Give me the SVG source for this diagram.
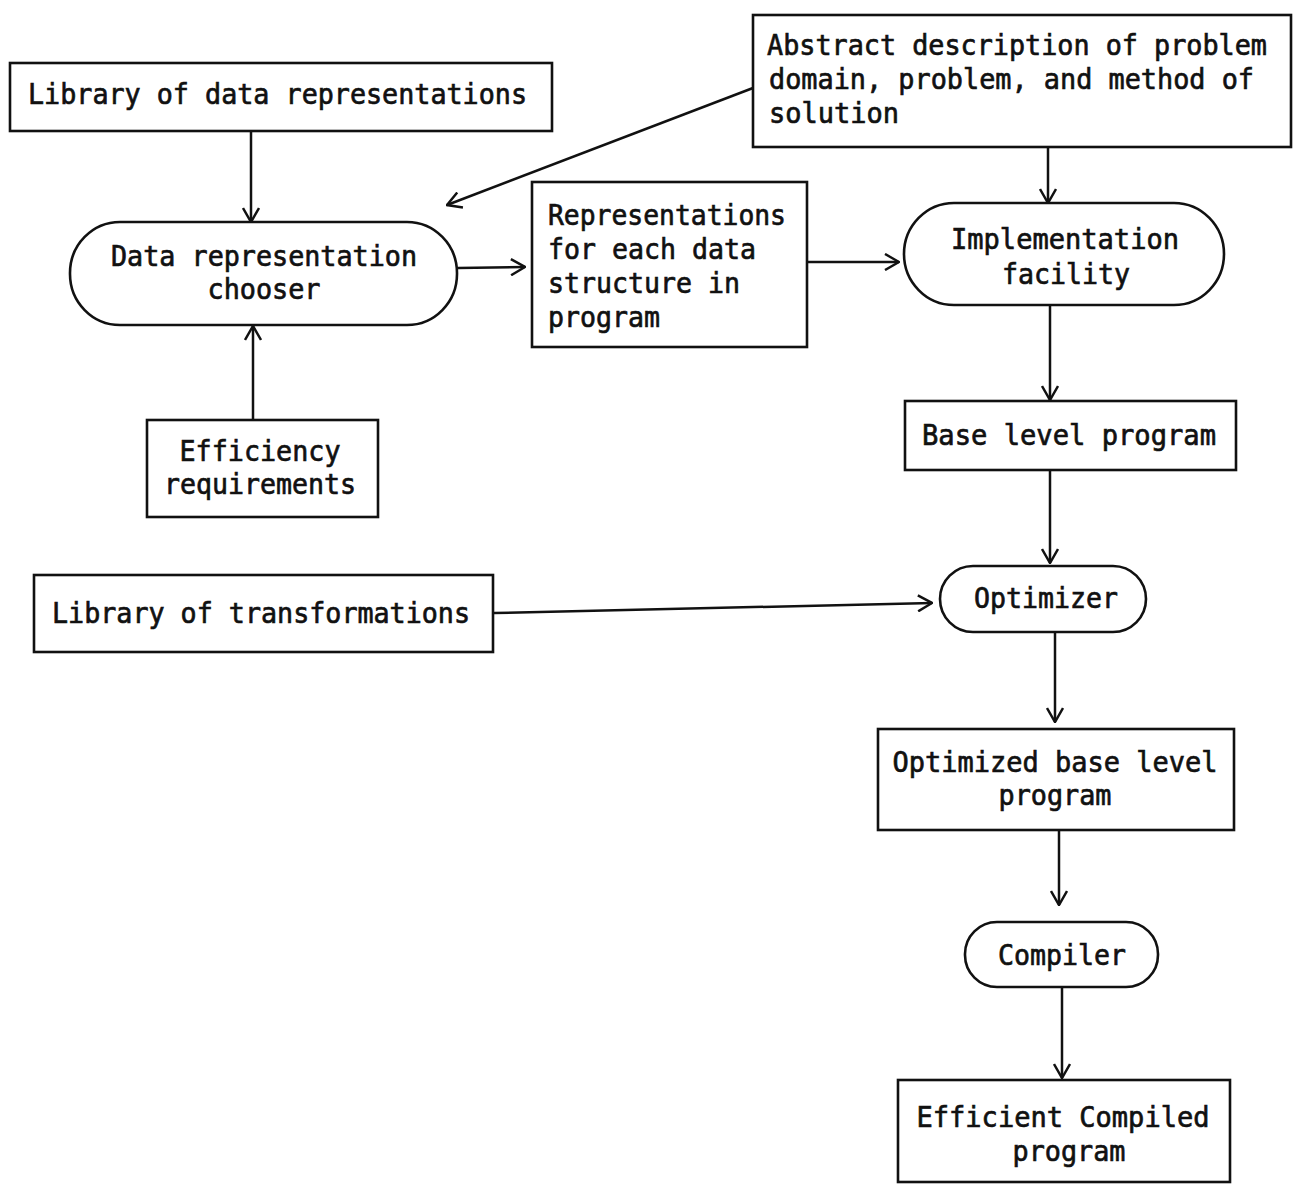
<svg xmlns="http://www.w3.org/2000/svg" width="1296" height="1186" viewBox="0 0 1296 1186">
<style>
.b{fill:#fff;stroke:#111;stroke-width:2.6}
.t{font-family:"DejaVu Sans Mono","Liberation Mono",monospace;font-size:29px;fill:#111;stroke:#111;stroke-width:0.7}
.m{text-anchor:middle}
.c{stroke:#111;stroke-width:2.5;fill:none;marker-end:url(#ah)}
</style>
<defs>
<marker id="ah" markerUnits="userSpaceOnUse" viewBox="0 0 16 18" markerWidth="16" markerHeight="18" refX="15" refY="9" orient="auto">
<path d="M1,1 L15,9 L1,17" fill="none" stroke="#111" stroke-width="2.5"/>
</marker>
</defs>
<rect width="1296" height="1186" fill="#fff"/>
<g id="connectors">
<line class="c" x1="251" y1="131" x2="251" y2="222"/>
<line class="c" x1="753" y1="88" x2="447" y2="205"/>
<line class="c" x1="253" y1="420" x2="253" y2="326"/>
<line class="c" x1="458" y1="268" x2="525" y2="267"/>
<line class="c" x1="808" y1="262" x2="899" y2="262"/>
<line class="c" x1="1048" y1="148" x2="1048" y2="203"/>
<line class="c" x1="1050" y1="306" x2="1050" y2="400"/>
<line class="c" x1="1050" y1="471" x2="1050" y2="563"/>
<line class="c" x1="494" y1="613" x2="932" y2="603"/>
<line class="c" x1="1055" y1="633" x2="1055" y2="722"/>
<line class="c" x1="1059" y1="830" x2="1059" y2="905"/>
<line class="c" x1="1062" y1="988" x2="1062" y2="1078"/>
</g>
<g id="lib-data">
<rect class="b" x="10" y="63" width="542" height="68"/>
<text class="t" x="28" y="104" textLength="499" lengthAdjust="spacingAndGlyphs">Library of data representations</text>
</g>
<g id="abstract">
<rect class="b" x="753" y="15" width="538" height="132"/>
<text class="t" x="767" y="55" textLength="500" lengthAdjust="spacingAndGlyphs">Abstract description of problem</text>
<text class="t" x="769" y="89" textLength="485" lengthAdjust="spacingAndGlyphs">domain, problem, and method of</text>
<text class="t" x="769" y="123" textLength="130" lengthAdjust="spacingAndGlyphs">solution</text>
</g>
<g id="chooser">
<rect class="b" x="70" y="222" width="387" height="103" rx="50" ry="51"/>
<text class="t m" x="264" y="266" textLength="306" lengthAdjust="spacingAndGlyphs">Data representation</text>
<text class="t m" x="264" y="299" textLength="113" lengthAdjust="spacingAndGlyphs">chooser</text>
</g>
<g id="representations">
<rect class="b" x="532" y="182" width="275" height="165"/>
<text class="t" x="548" y="225" textLength="238" lengthAdjust="spacingAndGlyphs">Representations</text>
<text class="t" x="548" y="259" textLength="208" lengthAdjust="spacingAndGlyphs">for each data</text>
<text class="t" x="548" y="293" textLength="192" lengthAdjust="spacingAndGlyphs">structure in</text>
<text class="t" x="548" y="327" textLength="112" lengthAdjust="spacingAndGlyphs">program</text>
</g>
<g id="implementation">
<rect class="b" x="904" y="203" width="320" height="102" rx="50" ry="51"/>
<text class="t m" x="1065" y="249" textLength="228" lengthAdjust="spacingAndGlyphs">Implementation</text>
<text class="t m" x="1066" y="284" textLength="128" lengthAdjust="spacingAndGlyphs">facility</text>
</g>
<g id="efficiency">
<rect class="b" x="147" y="420" width="231" height="97"/>
<text class="t m" x="260" y="461" textLength="161" lengthAdjust="spacingAndGlyphs">Efficiency</text>
<text class="t m" x="260" y="494" textLength="192" lengthAdjust="spacingAndGlyphs">requirements</text>
</g>
<g id="base-level">
<rect class="b" x="905" y="401" width="331" height="69"/>
<text class="t m" x="1069" y="445" textLength="294" lengthAdjust="spacingAndGlyphs">Base level program</text>
</g>
<g id="lib-trans">
<rect class="b" x="34" y="575" width="459" height="77"/>
<text class="t m" x="261" y="623" textLength="418" lengthAdjust="spacingAndGlyphs">Library of transformations</text>
</g>
<g id="optimizer">
<rect class="b" x="940" y="566" width="206" height="66" rx="33" ry="33"/>
<text class="t m" x="1046" y="608" textLength="144" lengthAdjust="spacingAndGlyphs">Optimizer</text>
</g>
<g id="optimized">
<rect class="b" x="878" y="729" width="356" height="101"/>
<text class="t m" x="1055" y="772" textLength="325" lengthAdjust="spacingAndGlyphs">Optimized base level</text>
<text class="t m" x="1055" y="805" textLength="113" lengthAdjust="spacingAndGlyphs">program</text>
</g>
<g id="compiler">
<rect class="b" x="965" y="922" width="193" height="65" rx="32" ry="32"/>
<text class="t m" x="1062" y="965" textLength="128" lengthAdjust="spacingAndGlyphs">Compiler</text>
</g>
<g id="efficient">
<rect class="b" x="898" y="1080" width="332" height="102"/>
<text class="t m" x="1063" y="1127" textLength="293" lengthAdjust="spacingAndGlyphs">Efficient Compiled</text>
<text class="t m" x="1069" y="1161" textLength="113" lengthAdjust="spacingAndGlyphs">program</text>
</g>
</svg>
